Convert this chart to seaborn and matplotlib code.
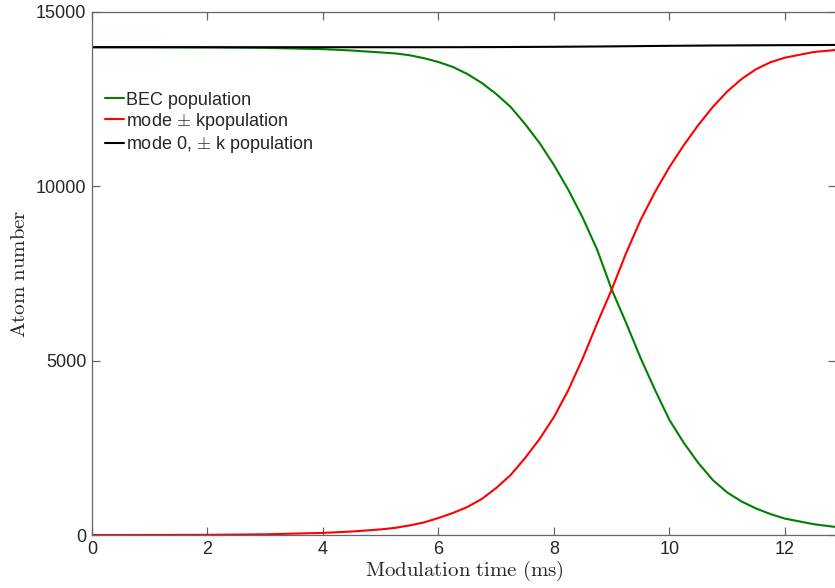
import matplotlib
matplotlib.use("Agg")
import matplotlib.pyplot as plt
import seaborn as sns
import pandas as pd

# Values
t = [0, 1, 2, 3, 4, 4.5, 5, 5.25, 5.5, 5.75, 6, 6.25, 6.5, 6.75, 7, 7.25,
     7.5, 7.75, 8, 8.25, 8.5, 8.75, 9, 9.25, 9.5, 9.75, 10, 10.25, 10.5,
     10.75, 11, 11.25, 11.5, 11.75, 12, 12.5, 12.88]
bec = [13990, 13990, 13985, 13972, 13935, 13895, 13840, 13812, 13760, 13675,
       13566, 13423, 13222, 12964, 12648, 12275, 11788, 11243, 10612, 9895,
       9092, 8174, 7040, 6080, 5076, 4159, 3298, 2639, 2065, 1577, 1220, 960,
       760, 600, 470, 310, 229]
mode_k = [0, 1, 5, 20, 60, 100, 160, 205, 275, 360, 488, 631, 803, 1033, 1348,
          1721, 2208, 2753, 3384, 4159, 5076, 6080, 7040, 8088, 9034, 9837,
          10554, 11185, 11759, 12275, 12720, 13080, 13360, 13560, 13690,
          13853, 13910]
total = [13990, 13990, 13990, 13990, 13990, 13990, 13990, 13990, 13990, 13990,
         13991, 13991, 13992, 13993, 13994, 13996, 13998, 14000, 14002, 14005,
         14008, 14011, 14014, 14018, 14022, 14026, 14030, 14033, 14036, 14039,
         14041, 14043, 14045, 14047, 14049, 14052, 14055]

labels = ["BEC population", r"mode $\pm$ kpopulation", r"mode 0, $\pm$ k population"]
colors = ["#008000", "#ff0000", "#000000"]

df = pd.concat([
    pd.DataFrame({"t": t, "n": bec, "series": labels[0]}),
    pd.DataFrame({"t": t, "n": mode_k, "series": labels[1]}),
    pd.DataFrame({"t": t, "n": total, "series": labels[2]}),
])

sns.set_style("ticks")
plt.rcParams["font.family"] = ["Liberation Sans", "DejaVu Sans"]
plt.rcParams["mathtext.fontset"] = "cm"

fig = plt.figure(figsize=(8.35, 5.88), dpi=100)
ax = fig.add_axes([92 / 835, 53 / 588, 744 / 835, 523 / 588])

sns.lineplot(data=df, x="t", y="n", hue="series", hue_order=labels,
             palette=colors, linewidth=1.5, ax=ax)

ax.set_xlim(0, 12.884)
ax.set_ylim(0, 15000)
ax.set_xticks([0, 2, 4, 6, 8, 10, 12])
ax.set_yticks([0, 5000, 10000, 15000])

gray = "#262626"
for s in ax.spines.values():
    s.set_color("#666666")
    s.set_linewidth(0.9)
ax.tick_params(direction="in", length=6, width=0.9, color="#666666",
               labelcolor=gray, labelsize=13, top=True, right=True, pad=4)

ax.set_xlabel(r"$\mathrm{Modulation\ time\ (ms)}$", fontsize=15, labelpad=1)
ax.set_ylabel(r"$\mathrm{Atom\ number}$", fontsize=15, labelpad=5)

leg = ax.legend(loc="upper left", bbox_to_anchor=(0.0, 0.872), frameon=False,
                fontsize=13, handlelength=1.05, handletextpad=0.15,
                labelspacing=0.12, borderaxespad=0.3)

fig.savefig("out.png", dpi=100)
